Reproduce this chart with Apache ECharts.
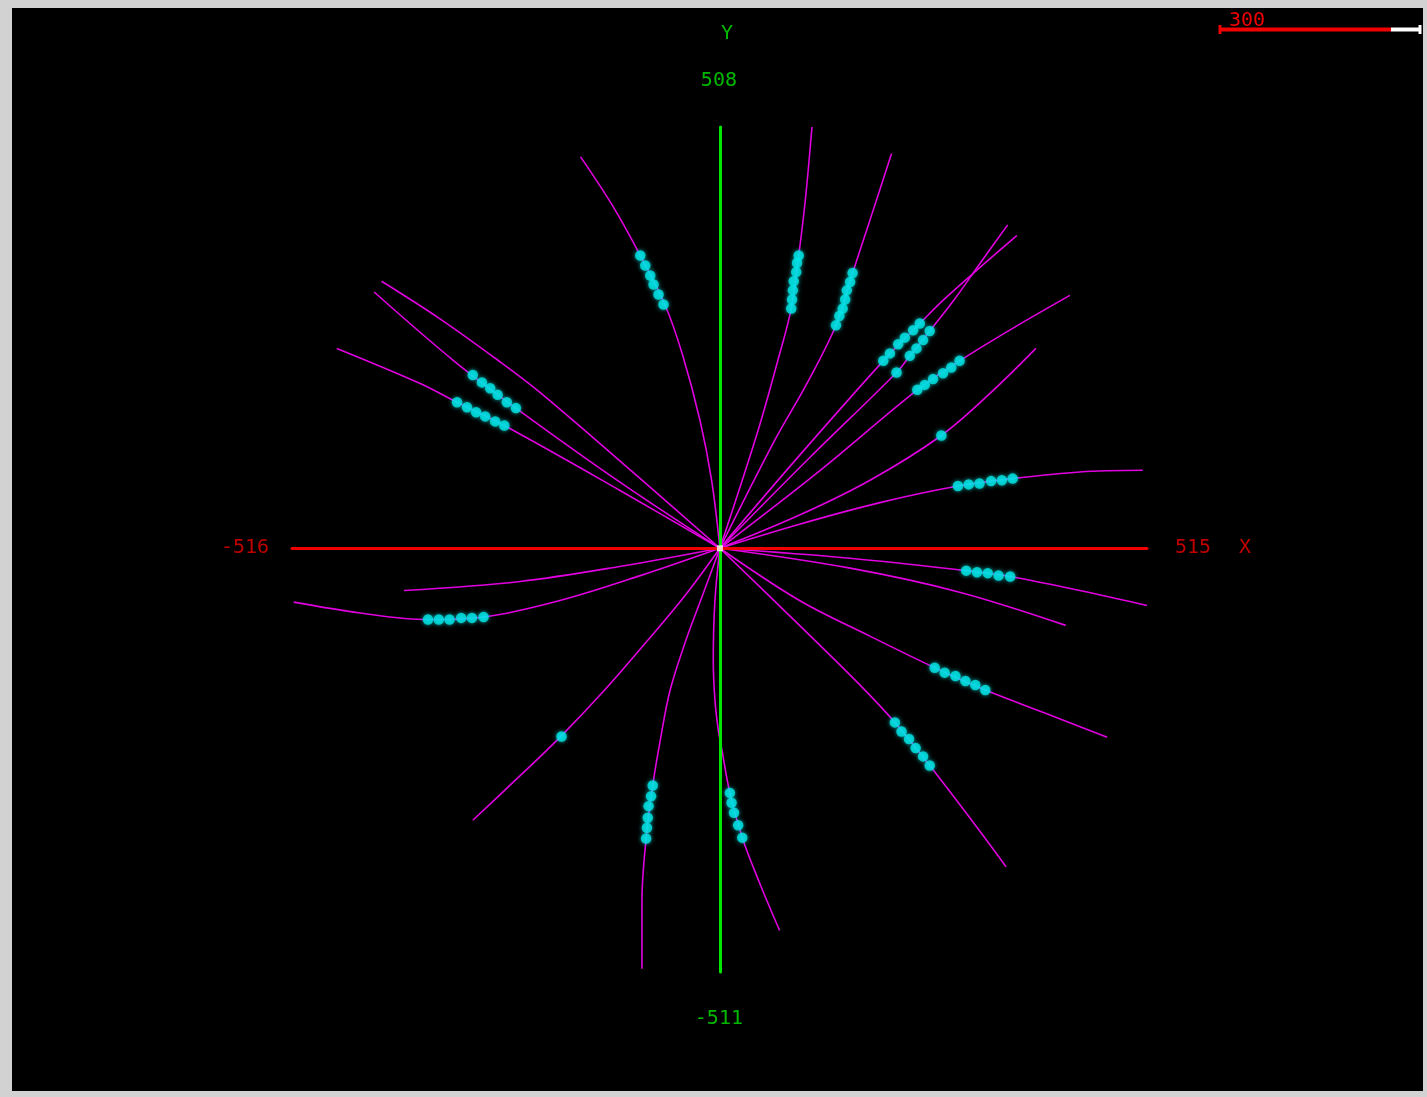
<!DOCTYPE html>
<html>
<head>
<meta charset="utf-8">
<script src="https://cdn.jsdelivr.net/npm/echarts@6/dist/echarts.min.js"></script>
<style>
  html, body { margin: 0; padding: 0; background: #d2d2d2; overflow: hidden; }
  #chart { width: 1427px; height: 1097px; }
</style>
</head>
<body>
<div id="chart"></div>
<script>
// Axis extents of the transverse view
const xRange = [-516, 515];
const yRange = [-511, 508];
const axisNames = ['X', 'Y'];
const scaleLength = 300;

// Reconstructed track trajectories, [x, y] from the vertex outward
const track01 = [[0,0],[-10,82],[-24,154],[-45,233],[-66,293],[-96,353],[-130,414],[-168,472]];
const track02 = [[0,0],[46,142],[70,227],[86,289],[95,353],[103,420],[111,508]];
const track03 = [[0,0],[66,130],[104,197],[140,269],[160,332],[181,396],[207,476]];
const track04 = [[0,0],[96,112],[197,226],[241,271],[269,299],[314,339],[358,377]];
const track05 = [[0,0],[109,110],[213,212],[229,232],[253,262],[282,299],[314,344],[347,390]];
const track06 = [[0,0],[121,94],[238,191],[289,226],[356,267],[422,305]];
const track07 = [[0,0],[96,40],[181,82],[267,136],[326,187],[381,241]];
const track08 = [[0,0],[96,29],[193,55],[287,75],[353,84],[434,92],[510,94]];
const track09 = [[0,0],[157,-12],[297,-27],[350,-34],[434,-51],[515,-69]];
const track10 = [[0,0],[157,-24],[289,-53],[417,-93]];
const track11 = [[0,0],[96,-63],[181,-106],[259,-144],[320,-171],[398,-201],[467,-228]];
const track12 = [[0,0],[96,-93],[169,-165],[211,-210],[253,-262],[302,-326],[345,-384]];
const track13 = [[0,0],[-6,-63],[-8,-135],[-6,-183],[-2,-219],[2,-241],[12,-295],[27,-349],[48,-404],[72,-461]];
const track14 = [[0,0],[-21,-57],[-41,-111],[-60,-171],[-72,-232],[-81,-286],[-89,-350],[-94,-425],[-94,-507]];
const track15 = [[0,0],[-42,-57],[-87,-111],[-139,-171],[-193,-228],[-247,-280],[-298,-328]];
const track16 = [[0,0],[-96,-33],[-193,-63],[-285,-83],[-352,-86],[-434,-78],[-514,-65]];
const track17 = [[0,0],[-121,-22],[-241,-40],[-381,-51]];
const track18 = [[0,0],[-121,80],[-246,169],[-322,227],[-417,309]];
const track19 = [[0,0],[-121,70],[-260,148],[-317,176],[-362,199],[-462,241]];
const track20 = [[0,0],[-96,84],[-217,188],[-268,227],[-338,277],[-408,322]];

// Detector hits associated with the tracks
const hits01 = [[-96,353],[-90,341],[-84,329],[-80,318],[-74,306],[-68,294]];
const hits02 = [[86,289],[87,300],[88,311],[89,322],[92,333],[93,344],[95,353]];
const hits03 = [[140,269],[144,280],[148,289],[151,300],[153,311],[157,321],[160,332]];
const hits04 = [[197,226],[205,235],[215,246],[223,254],[233,263],[241,271]];
const hits05 = [[213,212],[229,232],[237,241],[245,251],[253,262]];
const hits06 = [[238,191],[247,197],[257,204],[269,211],[279,218],[289,226]];
const hits07 = [[267,136]];
const hits08 = [[287,75],[300,77],[313,78],[327,81],[340,82],[353,84]];
const hits09 = [[297,-27],[310,-29],[323,-30],[336,-33],[350,-34]];
const hits11 = [[259,-144],[271,-150],[284,-154],[296,-160],[308,-165],[320,-171]];
const hits12 = [[211,-210],[219,-221],[228,-230],[236,-241],[245,-251],[253,-262]];
const hits13 = [[12,-295],[14,-307],[17,-319],[22,-334],[27,-349]];
const hits14 = [[-81,-286],[-83,-299],[-86,-311],[-87,-325],[-88,-337],[-89,-350]];
const hits15 = [[-191,-227]];
const hits16 = [[-352,-86],[-339,-86],[-326,-86],[-312,-84],[-299,-84],[-285,-83]];
const hits18 = [[-298,209],[-287,200],[-277,193],[-268,185],[-257,176],[-246,169]];
const hits19 = [[-317,176],[-305,170],[-294,164],[-283,159],[-271,153],[-260,148]];

const vertex = [[0, 0]];

const tracks = [track01, track02, track03, track04, track05, track06, track07, track08, track09, track10,
                track11, track12, track13, track14, track15, track16, track17, track18, track19, track20];
const hitSets = [hits01, hits02, hits03, hits04, hits05, hits06, hits07, hits08, hits09,
                 hits11, hits12, hits13, hits14, hits15, hits16, hits18, hits19];

const RED = '#f00000';
const GREEN = '#00e600';
const MAGENTA = '#e000e0';
const CYAN = '#00e6e6';
const FONT = 'DejaVu Sans Mono';

const chart = echarts.init(document.getElementById('chart'));

// Labels at the ends of the two axis lines
const endLabel = (value, text, color, offset) => ({
  value: value,
  label: { show: true, position: 'inside', formatter: text, color: color, offset: offset,
           fontFamily: FONT, fontSize: 20 }
});
const axisEndData = [
  endLabel([xRange[0], 0], String(xRange[0]), RED, [-47, 0]),
  endLabel([xRange[1], 0], String(xRange[1]), RED, [46, 0]),
  endLabel([xRange[1], 0], axisNames[0], RED, [98, 0]),
  endLabel([0, yRange[1]], String(yRange[1]), GREEN, [-1, -46]),
  endLabel([0, yRange[1]], axisNames[1], GREEN, [7, -93]),
  endLabel([0, yRange[0]], String(yRange[0]), GREEN, [-1, 47])
];

const series = [];
tracks.forEach((t, i) => {
  series.push({
    type: 'line', name: 'track' + (i + 1), data: t, smooth: 0.35, symbol: 'none',
    lineStyle: { color: MAGENTA, width: 1.6 }, z: 2, silent: true, animation: false
  });
});
hitSets.forEach((h, i) => {
  series.push({
    type: 'scatter', name: 'hits' + (i + 1), data: h, symbolSize: 10.5,
    itemStyle: { color: CYAN, shadowBlur: 4, shadowColor: 'rgba(0,255,255,0.8)' },
    z: 5, silent: true, animation: false
  });
});
series.push({
  type: 'scatter', name: 'vertex', data: vertex, symbol: 'rect', symbolSize: 6,
  itemStyle: { color: '#ffffff' }, z: 6, silent: true, animation: false
});
series.push({
  type: 'scatter', name: 'axisEnds', data: axisEndData, symbolSize: 0, clip: false,
  z: 6, silent: true, animation: false
});

// Frame and scale bar in the upper right corner
const decorations = [
  { type: 'rect', shape: { x: 12, y: 8, width: 1411, height: 1083 }, style: { fill: '#000' }, z: -10 },
  { type: 'line', shape: { x1: 1220, y1: 29.5, x2: 1391, y2: 29.5 }, style: { stroke: RED, lineWidth: 4 }, z: 10 },
  { type: 'line', shape: { x1: 1391, y1: 29.5, x2: 1420, y2: 29.5 }, style: { stroke: '#ffffff', lineWidth: 4 }, z: 10 },
  { type: 'line', shape: { x1: 1220, y1: 25, x2: 1220, y2: 34 }, style: { stroke: RED, lineWidth: 3 }, z: 10 },
  { type: 'line', shape: { x1: 1420, y1: 25, x2: 1420, y2: 34 }, style: { stroke: '#ffffff', lineWidth: 3 }, z: 10 },
  { type: 'text', x: 1229, y: 21, style: { text: String(scaleLength), fill: RED, font: '20px "' + FONT + '"',
    textVerticalAlign: 'middle', verticalAlign: 'middle' }, z: 9 }
];

chart.setOption({
  backgroundColor: '#d2d2d2',
  animation: false,
  graphic: decorations,
  grid: { left: 292, top: 127, width: 855, height: 845, containLabel: false },
  xAxis: {
    type: 'value', min: xRange[0], max: xRange[1], z: 3,
    axisLine: { show: true, onZero: true, lineStyle: { color: RED, width: 3 } },
    axisTick: { show: false }, axisLabel: { show: false }, splitLine: { show: false }
  },
  yAxis: {
    type: 'value', min: yRange[0], max: yRange[1], z: 3,
    axisLine: { show: true, onZero: true, lineStyle: { color: GREEN, width: 3 } },
    axisTick: { show: false }, axisLabel: { show: false }, splitLine: { show: false }
  },
  series: series
});
</script>
</body>
</html>
